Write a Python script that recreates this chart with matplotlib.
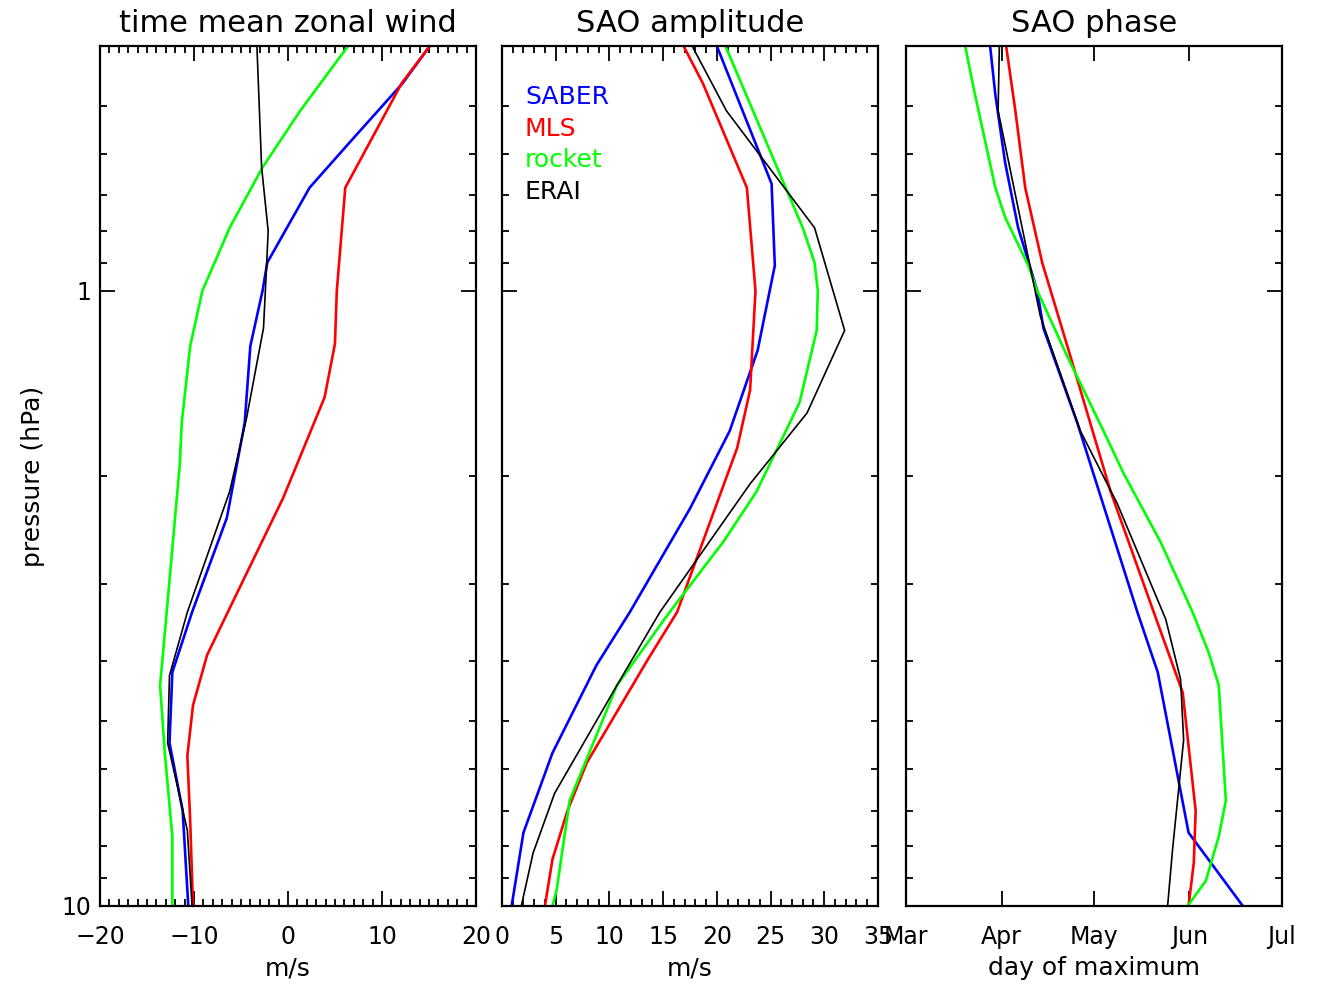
import numpy as np
import matplotlib.pyplot as plt
from matplotlib.ticker import NullFormatter, MultipleLocator

# time mean zonal wind (m/s) vs pressure (hPa)
u_saber_p = [0.40, 0.46, 0.58, 0.68, 0.90, 1.0, 1.23, 1.64, 2.34, 3.33, 4.17, 5.43, 7.0, 10]
u_saber = [15.1, 12.2, 6.3, 2.3, -2.2, -2.7, -4.0, -4.6, -6.5, -10.2, -12.3, -12.6, -11.2, -10.6]
u_mls_p = [0.40, 0.46, 0.68, 1.0, 1.22, 1.49, 2.17, 3.33, 3.91, 4.72, 5.70, 7.26, 10]
u_mls = [15.1, 12.1, 6.1, 5.2, 5.0, 3.9, -0.5, -6.4, -8.6, -10.1, -10.7, -10.4, -10.1]
u_rocket_p = [0.40, 0.51, 0.63, 0.79, 1.0, 1.23, 1.64, 1.91, 3.33, 4.38, 5.64, 7.71, 10]
u_rocket = [6.4, 1.3, -2.7, -6.2, -9.1, -10.4, -11.3, -11.5, -12.9, -13.6, -13.1, -12.3, -12.3]
u_erai_p = [0.40, 0.63, 0.80, 1.0, 1.15, 1.61, 2.12, 3.33, 4.22, 5.43, 7.54, 10]
u_erai = [-3.3, -2.8, -2.1, -2.4, -2.6, -4.4, -6.2, -10.7, -12.6, -12.8, -10.7, -10.2]

# SAO amplitude (m/s)
a_saber_p = [0.40, 0.67, 0.91, 1.25, 1.69, 2.26, 3.33, 4.06, 5.64, 7.6, 10]
a_saber = [20.0, 25.1, 25.4, 23.8, 21.2, 17.5, 11.9, 8.8, 4.7, 2.0, 0.9]
a_mls_p = [0.40, 0.46, 0.68, 1.0, 1.45, 1.80, 3.33, 3.97, 5.85, 7.0, 8.4, 10]
a_mls = [16.9, 18.7, 22.8, 23.6, 23.1, 21.9, 16.3, 13.6, 7.9, 6.1, 4.7, 4.0]
a_rocket_p = [0.40, 0.79, 0.90, 1.0, 1.16, 1.52, 2.12, 2.56, 3.33, 4.38, 6.74, 9.4, 10]
a_rocket = [20.8, 28.0, 29.1, 29.4, 29.3, 27.7, 23.7, 20.6, 15.6, 10.7, 6.3, 5.1, 4.7]
a_erai_p = [0.40, 0.51, 0.79, 1.16, 1.58, 2.06, 3.33, 4.38, 6.56, 8.2, 10]
a_erai = [17.7, 20.9, 29.1, 31.9, 28.4, 23.1, 14.7, 10.7, 4.9, 2.9, 1.8]

# SAO phase, day of year of maximum
d_saber_p = [0.40, 0.48, 0.62, 0.79, 1.0, 1.15, 1.64, 3.33, 4.17, 7.6, 10]
d_saber = [87.3, 89.0, 92.2, 96.4, 102.6, 104.6, 115.6, 135.1, 141.7, 151.7, 169.3]
d_mls_p = [0.40, 0.51, 0.68, 0.90, 1.28, 2.12, 3.33, 4.5, 7.0, 8.5, 10]
d_mls = [92.5, 95.5, 98.7, 104.2, 113.4, 126.4, 140.4, 149.8, 154.0, 153.4, 151.7]
d_rocket_p = [0.40, 0.48, 0.68, 0.76, 0.91, 1.0, 1.16, 1.28, 1.69, 1.98, 2.56, 3.33, 3.87, 4.38, 6.74, 7.71, 9.1, 10]
d_rocket = [79.2, 82.4, 89.0, 92.2, 99.7, 102.6, 108.5, 112.4, 124.1, 130.6, 142.6, 153.0, 158.2, 161.5, 163.8, 161.5, 157.3, 151.4]
d_erai_p = [0.40, 0.51, 0.66, 1.10, 1.69, 2.22, 3.42, 4.28, 5.37, 8.1, 10]
d_erai = [90.3, 89.9, 94.5, 103.6, 116.6, 128.6, 144.3, 149.1, 150.1, 146.5, 144.9]

month_days = [60, 91, 121, 152, 182]
month_names = ['Mar', 'Apr', 'May', 'Jun', 'Jul']

names = ['SABER', 'MLS', 'rocket', 'ERAI']
colors = ['#0000ff', '#ff0000', '#00ff00', '#000000']
widths = [1.9, 1.9, 1.9, 1.2]

plt.rcParams['font.family'] = 'DejaVu Sans'

fig = plt.figure(figsize=(13.22, 9.84), dpi=100)
lefts = [0.0756, 0.3797, 0.6853]
axes = [fig.add_axes([l, 0.0793, 0.2844, 0.8740]) for l in lefts]
ax1, ax2, ax3 = axes

panels = [
    (ax1, [(u_saber_p, u_saber), (u_mls_p, u_mls), (u_rocket_p, u_rocket), (u_erai_p, u_erai)]),
    (ax2, [(a_saber_p, a_saber), (a_mls_p, a_mls), (a_rocket_p, a_rocket), (a_erai_p, a_erai)]),
    (ax3, [(d_saber_p, d_saber), (d_mls_p, d_mls), (d_rocket_p, d_rocket), (d_erai_p, d_erai)]),
]

for ax, series in panels:
    for (p, x), c, w in zip(series, colors, widths):
        ax.plot(x, p, color=c, lw=w)
    ax.set_yscale('log')
    ax.set_ylim(10, 0.4)
    ax.set_yticks([1, 10])
    ax.set_yticks([0.4, 0.5, 0.6, 0.7, 0.8, 0.9, 2, 3, 4, 5, 6, 7, 8, 9], minor=True)
    ax.yaxis.set_minor_formatter(NullFormatter())
    ax.tick_params(which='both', direction='in', top=True, right=True, width=1.3,
                   labelsize=17, pad=14)
    ax.tick_params(which='major', length=10.5)
    ax.tick_params(which='minor', length=5)
    ax.tick_params(axis='y', pad=6)
    for s in ax.spines.values():
        s.set_linewidth(1.6)

ax1.set_yticklabels(['1', '10'])
ax2.set_yticklabels([])
ax3.set_yticklabels([])

ax1.set_xlim(-20, 20)
ax1.xaxis.set_major_locator(MultipleLocator(10))
ax1.xaxis.set_minor_locator(MultipleLocator(1))

ax2.set_xlim(0, 35)
ax2.xaxis.set_major_locator(MultipleLocator(5))
ax2.xaxis.set_minor_locator(MultipleLocator(1))

ax3.set_xlim(60, 182)
ax3.set_xticks(month_days)
ax3.set_xticklabels(month_names)
ax3.xaxis.set_minor_locator(plt.NullLocator())

ax1.set_title('time mean zonal wind', fontsize=22, pad=10)
ax2.set_title('SAO amplitude', fontsize=22, pad=10)
ax3.set_title('SAO phase', fontsize=22, pad=10)
ax1.set_xlabel('m/s', fontsize=18, labelpad=5)
ax2.set_xlabel('m/s', fontsize=18, labelpad=5)
ax3.set_xlabel('day of maximum', fontsize=18, labelpad=5)
ax1.set_ylabel('pressure (hPa)', fontsize=18, labelpad=12)

for i, (n, c) in enumerate(zip(names, colors)):
    ax2.text(0.061, 0.941 - i * 0.037, n, color=c, fontsize=18,
             transform=ax2.transAxes, va='center', ha='left')

plt.savefig('out.png', dpi=100)
plt.close()
